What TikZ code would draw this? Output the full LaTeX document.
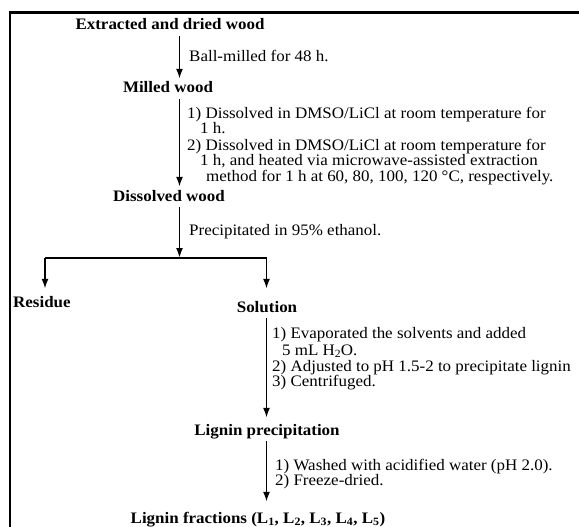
\documentclass[tikz,border=0pt]{standalone}
\usepackage{fontspec}
\setmainfont{Liberation Serif}[FakeStretch=1.06]
\usetikzlibrary{arrows.meta}
\newcommand{\lowsub}[1]{\raisebox{-2.5pt}{\fontsize{11}{11}\selectfont #1}}
\begin{document}
\begin{tikzpicture}[x=1pt,y=-1pt,
  every node/.style={inner sep=0pt, font=\fontsize{16}{17}\selectfont},
  stage/.style={font=\fontsize{16}{17}\selectfont\bfseries, text height=12pt, text depth=4pt, inner ysep=2pt, inner xsep=0pt, anchor=base},
  lbl/.style={anchor=base west},
  arr/.style={line width=1.8pt, -{Latex[length=10pt,width=7pt]}},
  frame/.style={line width=2.2pt}]
\useasboundingbox (0,0) rectangle (579,527);
\draw[frame] (10,528) -- (10,12.5) -- (580,12.5);

% main stages
\node[stage] (ext) at (170,30) {Extracted and dried wood};
\node[stage] (mil) at (168,93) {Milled wood};
\node[stage] (dis) at (169,201) {Dissolved wood};
\node[stage, anchor=base west] (res) at (13,307) {Residue};
\node[stage] (sol) at (267,312) {Solution};
\node[stage] (lp) at (267,435) {Lignin precipitation};
\node[stage] (lf) at (258,523) {Lignin fractions (L\textsubscript{1}, L\textsubscript{2}, L\textsubscript{3}, L\textsubscript{4}, L\textsubscript{5})};

% axes for arrows
\coordinate (ax) at (179.5,0);
\coordinate (bx) at (266.5,0);
\coordinate (jl) at (45,258);
\coordinate (jm) at (179.5,258);
\coordinate (jr) at (266.5,258);

% labels
\node[lbl] (t1) at (189,62) {Ball-milled for 48 h.};
\node[lbl] (t2a) at (187,119) {1) Dissolved in DMSO/LiCl at room temperature for};
\node[lbl] (t2b) at (200,134) {1 h.};
\node[lbl] (t2c) at (187,150) {2) Dissolved in DMSO/LiCl at room temperature for};
\node[lbl] (t2d) at (200,165.5) {1 h, and heated via microwave-assisted extraction};
\node[lbl] (t2e) at (206,181) {method for 1 h at 60, 80, 100, 120 °C, respectively.};
\node[lbl] (t3) at (189,235) {Precipitated in 95\% ethanol.};
\node[lbl] (t4a) at (272,338) {1) Evaporated the solvents and added};
\node[lbl] (t4b) at (282,355) {5 mL H\lowsub{2}O.};
\node[lbl] (t4c) at (272,371) {2) Adjusted to pH 1.5-2 to precipitate lignin};
\node[lbl] (t4d) at (272,386) {3) Centrifuged.};
\node[lbl] (t5a) at (275,470) {1) Washed with acidified water (pH 2.0).};
\node[lbl] (t5b) at (275,485) {2) Freeze-dried.};

% connectors
\draw[arr] (ext.south -| ax) -- (mil.north -| ax);
\draw[arr] (mil.south -| ax) -- (dis.north -| ax);
\draw[arr] (dis.south -| ax) -- (jm);
\draw[line width=1.8pt] (jl) -- (jr);
\draw[arr, shorten >=4pt] (jl) -- (jl |- res.north);
\draw[arr, shorten >=9pt] (jr) -- (jr |- sol.north);
\draw[arr, shorten >=3pt] (sol.south -| bx) -- (lp.north -| bx);
\draw[arr, shorten >=7pt] (lp.south -| bx) -- (lf.north -| bx);
\end{tikzpicture}
\end{document}
